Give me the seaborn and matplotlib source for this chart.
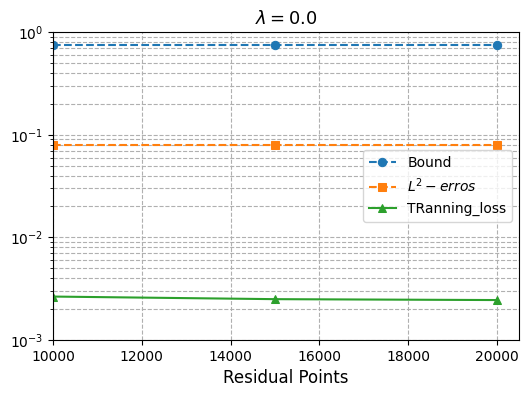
import matplotlib
matplotlib.use("Agg")
import matplotlib.pyplot as plt
import seaborn as sns
import pandas as pd

x_points = [10000, 15000, 20000]
bound = [0.75, 0.75, 0.75]
l2_errors = [0.079, 0.079, 0.079]
training_loss = [0.00265, 0.0025, 0.00245]

fig, ax = plt.subplots(figsize=(5.28, 3.97), dpi=100)

sns.lineplot(x=x_points, y=bound, ax=ax, marker='o', linestyle='--', color='#1f77b4',
             label='Bound', markersize=6, markeredgecolor='#1f77b4')
sns.lineplot(x=x_points, y=l2_errors, ax=ax, marker='s', linestyle='--', color='#ff7f0e',
             label='$L^2-erros$', markersize=6, markeredgecolor='#ff7f0e')
sns.lineplot(x=x_points, y=training_loss, ax=ax, marker='^', linestyle='-', color='#2ca02c',
             label='TRanning_loss', markersize=6, markeredgecolor='#2ca02c')

ax.set_yscale('log')
ax.set_ylim(1e-3, 1)
ax.set_xlim(10000, 20500)
ax.grid(True, which='both', linestyle='--')
ax.set_xlabel('Residual Points', fontsize=12)
ax.set_title(r'$\lambda = 0.0$', fontsize=13)
ax.legend(loc='center right')

fig.subplots_adjust(left=0.1004, right=0.983, top=0.919, bottom=0.1436)
fig.savefig('out.png', dpi=100)
